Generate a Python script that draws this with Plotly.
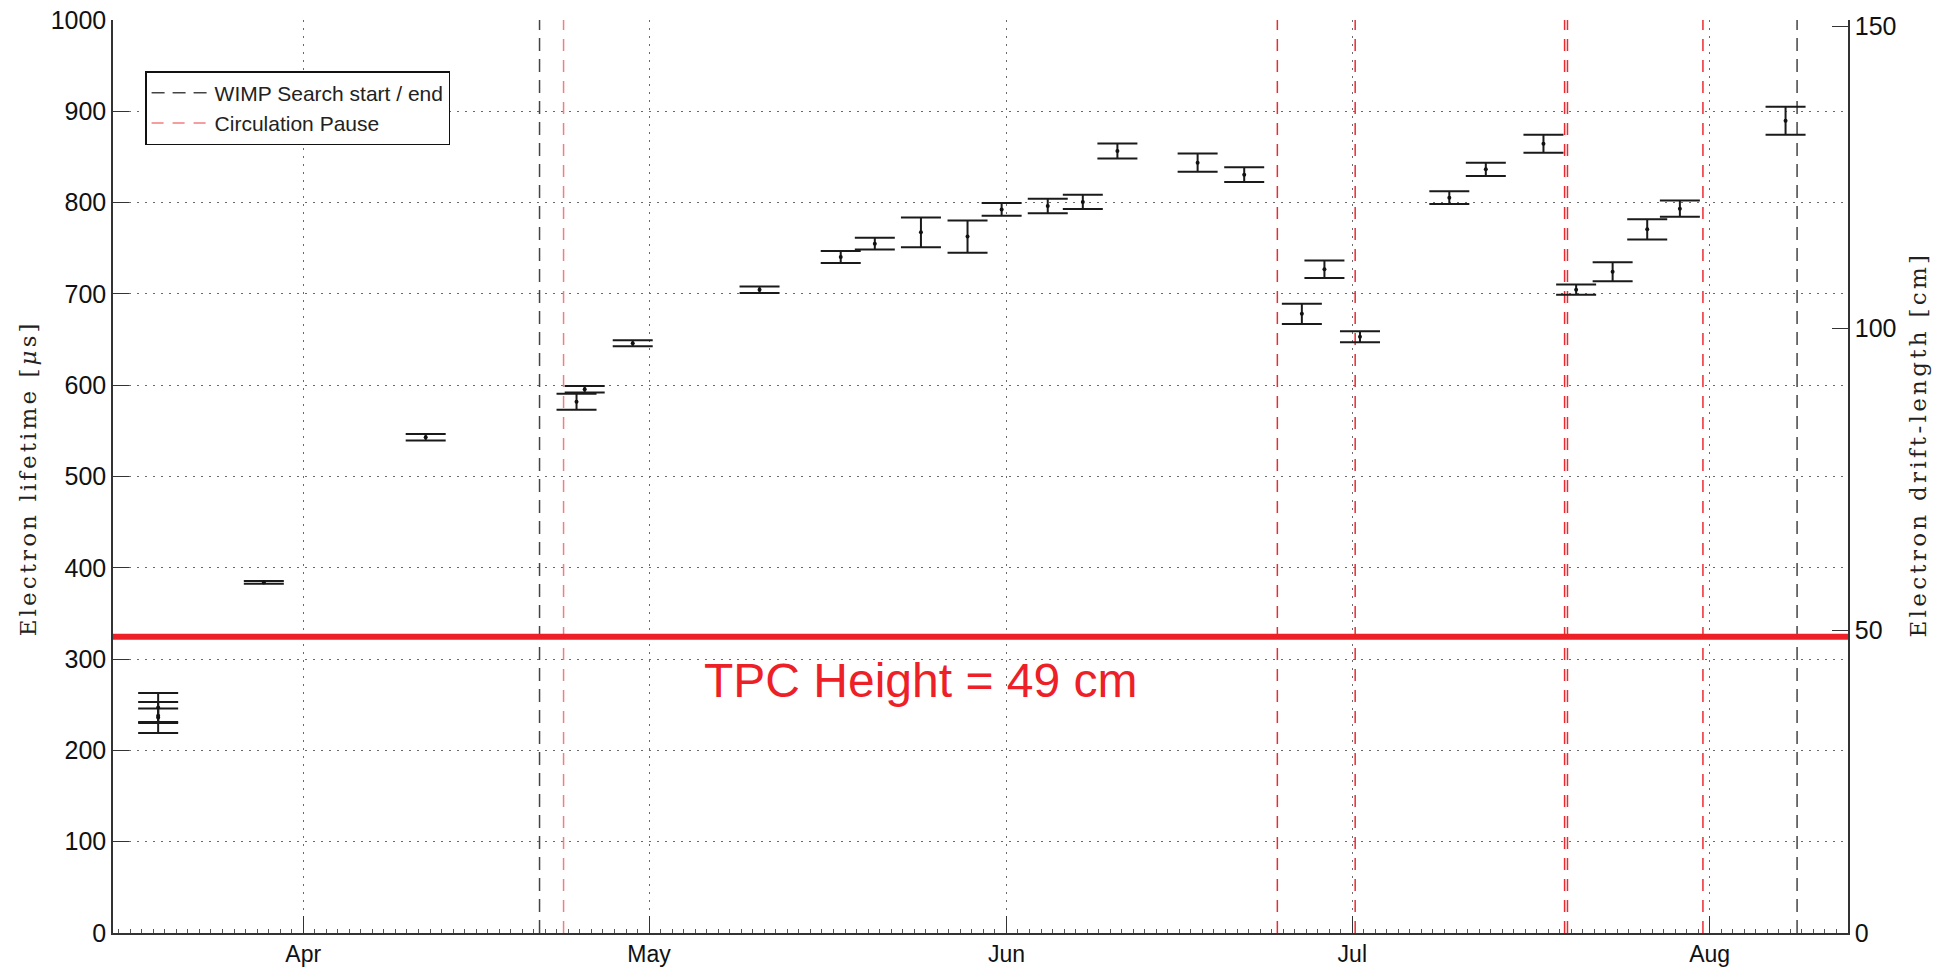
import plotly.graph_objects as go

# ---------------- data ----------------
meas_dates = [
    "2013-03-19 10:00", "2013-03-19 10:00", "2013-03-19 10:00",
    "2013-03-28 14:00", "2013-04-11 15:00", "2013-04-24 17:00",
    "2013-04-25 10:00", "2013-04-29 14:00", "2013-05-10 14:00",
    "2013-05-17 15:00", "2013-05-20 14:00", "2013-05-24 14:00",
    "2013-05-28 15:00", "2013-05-31 14:00", "2013-06-04 14:00",
    "2013-06-07 15:00", "2013-06-10 15:00", "2013-06-17 14:00",
    "2013-06-21 15:00", "2013-06-26 15:00", "2013-06-28 14:00",
    "2013-07-01 16:00", "2013-07-09 10:00", "2013-07-12 14:00",
    "2013-07-17 14:00", "2013-07-20 10:00", "2013-07-23 14:00",
    "2013-07-26 14:00", "2013-07-29 10:00", "2013-08-07 14:00",
]
lifetime_us = [
    247, 236, 238,
    384, 543, 582,
    595.5, 646, 704.5,
    740.5, 755, 767.5,
    763, 792.5, 796.3,
    800.7, 856.5, 843.7,
    830.6, 678.3, 727,
    653, 805.4, 836.4,
    864.5, 704.6, 724.3,
    770.7, 793.4, 889.7,
]
err_plus = [
    16, 17, 8,
    1.5, 3.5, 8.5,
    3.5, 3.3, 3.5,
    6.6, 6.4, 16.3,
    17.5, 7, 8,
    7.8, 8.3, 10,
    8, 11, 9.5,
    6, 7, 7.3,
    9.9, 5.6, 10.4,
    11, 9, 15.3,
]
err_minus = [
    16, 17, 8,
    1.5, 3.5, 9,
    3.5, 3.3, 3.5,
    6.6, 6.4, 16.3,
    18, 7, 8,
    7.8, 8.3, 10,
    8, 11.2, 9.5,
    6, 7, 7.3,
    9.9, 5.6, 10.4,
    11, 9, 15.3,
]

wimp_search_dates = ["2013-04-21 12:00", "2013-08-08 14:00"]
circulation_pause_dates = [
    "2013-04-23 14:00", "2013-06-24 12:00", "2013-07-01 06:00",
    "2013-07-19 10:00", "2013-07-19 16:00", "2013-07-31 10:00",
]

month_ticks = ["2013-04-01", "2013-05-01", "2013-06-01", "2013-07-01", "2013-08-01"]
month_labels = ["Apr", "May", "Jun", "Jul", "Aug"]

x_range = ["2013-03-15 12:00", "2013-08-13 00:00"]
lifetime_range = [0, 1000]
lifetime_ticks = [0, 100, 200, 300, 400, 500, 600, 700, 800, 900, 1000]
drift_range = [0, 151]
drift_ticks = [0, 50, 100, 150]
tpc_height_cm = 49
tpc_label = "TPC Height = 49 cm"
tpc_label_pos = ("2013-05-24 14:00", 277)

left_title = "Electron lifetime [<i>μ</i>s]"
right_title = "Electron drift-length [cm]"

# ---------------- styles ----------------
TICK_FONT = dict(family="Liberation Sans, Arial", size=25, color="#111111")
XTICK_FONT = dict(family="Liberation Sans, Arial", size=23, color="#111111")
TITLE_FONT = dict(family="DejaVu Serif, serif", size=23, color="#222222")
DASH_BLACK = "13px,8px"
DASH_RED = "12px,9px"
RED = "#ee2027"

fig = go.Figure()

# WIMP search start / end (black dashed)
wx, wy = [], []
for d in wimp_search_dates:
    wx += [d, d, None]
    wy += [lifetime_range[0], lifetime_range[1], None]
fig.add_trace(go.Scatter(
    x=wx, y=wy, mode="lines", name="WIMP Search start / end",
    line=dict(color="#444444", width=1.5, dash=DASH_BLACK),
    hoverinfo="skip",
))

# Circulation pauses (red dashed); first one lighter as in the reference
fig.add_trace(go.Scatter(
    x=[circulation_pause_dates[0]] * 2, y=lifetime_range, mode="lines",
    name="Circulation Pause",
    line=dict(color="#f27e80", width=1.5, dash=DASH_RED),
    hoverinfo="skip",
))
rx, ry = [], []
for d in circulation_pause_dates[1:]:
    rx += [d, d, None]
    ry += [lifetime_range[0], lifetime_range[1], None]
fig.add_trace(go.Scatter(
    x=rx, y=ry, mode="lines", showlegend=False,
    line=dict(color="#ec2a30", width=1.5, dash=DASH_RED),
    hoverinfo="skip",
))

# TPC height line on the drift-length axis
fig.add_trace(go.Scatter(
    x=x_range, y=[tpc_height_cm, tpc_height_cm], yaxis="y2", mode="lines",
    showlegend=False, line=dict(color=RED, width=6), hoverinfo="skip",
))

# measurements
fig.add_trace(go.Scatter(
    x=meas_dates, y=lifetime_us, mode="markers", showlegend=False,
    marker=dict(color="#111111", size=4),
    error_y=dict(type="data", symmetric=False, array=err_plus, arrayminus=err_minus,
                 color="#1a1a1a", thickness=2, width=20),
))

fig.add_annotation(
    x=tpc_label_pos[0], y=tpc_label_pos[1], xref="x", yref="y",
    text=tpc_label, showarrow=False, xanchor="center", yanchor="middle",
    font=dict(family="Liberation Sans, Arial", size=48, color=RED),
)

# axis titles as rotated annotations (exact placement)
fig.add_annotation(
    x=-0.049, y=0.498, xref="paper", yref="paper", textangle=-90,
    text='<span style="letter-spacing:3.1px">' + left_title + '</span>',
    showarrow=False, xanchor="center", yanchor="middle", font=TITLE_FONT,
)
fig.add_annotation(
    x=1.0403, y=0.535, xref="paper", yref="paper", textangle=-90,
    text='<span style="letter-spacing:3.3px">' + right_title + '</span>',
    showarrow=False, xanchor="center", yanchor="middle", font=TITLE_FONT,
)

grid_style = dict(gridcolor="#6a6a6a", gridwidth=1, griddash="2px,6px")

fig.update_layout(
    width=1952, height=968,
    margin=dict(l=113, r=104, t=20, b=35, pad=0),
    paper_bgcolor="white", plot_bgcolor="white",
    showlegend=True,
    legend=dict(
        x=0.0185, y=0.944, xanchor="left", yanchor="top",
        bgcolor="white", bordercolor="#111111", borderwidth=1.5,
        font=dict(family="Liberation Sans, Arial", size=21, color="#222222"),
        itemwidth=58, tracegroupgap=0,
    ),
    xaxis=dict(
        type="date", range=x_range, automargin=False,
        tickmode="array", tickvals=month_ticks, ticktext=month_labels,
        ticks="inside", ticklen=17, tickwidth=1, tickcolor="#333333",
        showline=True, linecolor="#333333", linewidth=1.5, mirror=False,
        showgrid=True, **grid_style,
        tickfont=XTICK_FONT,
        minor=dict(ticks="inside", ticklen=4, tickcolor="#555555", dtick=86400000,
                   tick0="2013-03-01", showgrid=False),
        zeroline=False,
    ),
    yaxis=dict(
        range=lifetime_range, tickmode="array", tickvals=lifetime_ticks, automargin=False,
        ticks="inside", ticklen=16, tickwidth=1, tickcolor="#333333",
        showline=True, linecolor="#333333", linewidth=1.5, mirror=False,
        showgrid=True, **grid_style, zeroline=False,
        tickfont=TICK_FONT,
    ),
    yaxis2=dict(
        overlaying="y", side="right", range=drift_range, automargin=False,
        tickmode="array", tickvals=drift_ticks,
        ticks="inside", ticklen=16, tickwidth=1, tickcolor="#333333",
        showline=True, linecolor="#333333", linewidth=1.5,
        showgrid=False, zeroline=False,
        tickfont=TICK_FONT,
    ),
)

fig.write_html(
    "out.html",
    config={"displayModeBar": False},
    post_script="document.body.style.margin='0';document.body.style.overflow='hidden';",
)
